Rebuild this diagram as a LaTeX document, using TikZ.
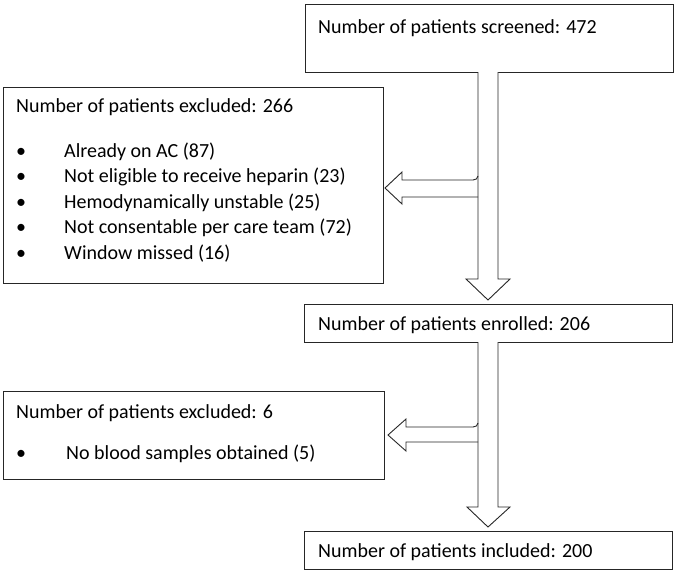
\documentclass[tikz,border=0pt]{standalone}
\usepackage{fontspec}
\setmainfont{Carlito}
\begin{document}
\begin{tikzpicture}[x={(1pt,0)},y={(0,-1pt)},
  box/.style={draw=black!85,line width=0.9pt,fill=white,inner sep=0pt,anchor=north west},
  txt/.style={inner sep=0pt,anchor=base west,font=\fontsize{20pt}{24pt}\selectfont},
  bul/.style={inner sep=0pt,anchor=base,font=\fontsize{20pt}{24pt}\selectfont},
  blk/.style={draw=black!85,line width=0.9pt,fill=white,line join=miter}]
\useasboundingbox (0,0) rectangle (676,574);
% boxes
\node[box,minimum width=368pt,minimum height=68pt] (scr) at (305,4) {};
\node[box,minimum width=380pt,minimum height=196pt] (ex1) at (3,87) {};
\node[box,minimum width=368pt,minimum height=38pt] (enr) at (304,304) {};
\node[box,minimum width=381pt,minimum height=88pt] (ex2) at (3,391) {};
\node[box,minimum width=368pt,minimum height=38pt] (inc) at (304,531) {};
% texts
\node[txt] (scrt) at (318,33.5) {Number of patients screened: 472};
\node[txt] (ex1t) at (16,112) {Number of patients excluded: 266};
\node[bul] (b1) at (21,157) {\textbullet}; \node[txt] (i1) at (64,157) {Already on AC (87)};
\node[bul] (b2) at (21,182.5) {\textbullet}; \node[txt] (i2) at (64,182.5) {Not eligible to receive heparin (23)};
\node[bul] (b3) at (21,208) {\textbullet}; \node[txt] (i3) at (64,208) {Hemodynamically unstable (25)};
\node[bul] (b4) at (21,233.5) {\textbullet}; \node[txt] (i4) at (64,233.5) {Not consentable per care team (72)};
\node[bul] (b5) at (21,259) {\textbullet}; \node[txt] (i5) at (64,259) {Window missed (16)};
\node[txt] (enrt) at (318,330) {Number of patients enrolled: 206};
\node[txt] (ex2t) at (16,418) {Number of patients excluded: 6};
\node[bul] (b6) at (21,459) {\textbullet}; \node[txt] (i6) at (66,459) {No blood samples obtained (5)};
\node[txt] (inct) at (318,557) {Number of patients included: 200};
% block arrow 1 (screened -> enrolled)
\draw[blk] (478,72) -- (478,279) -- (466,279) -- (488,300) -- (510,279) -- (498,279) -- (498,72);
% side arrow 1 (-> excluded 266)
\draw[blk,fill=none] (478,176) to[out=-90,in=0] (473,180) -- (402,180) -- (402,172) -- (385,188) -- (402,204) -- (402,197) -- (478,197);
% block arrow 2 (enrolled -> included)
\draw[blk] (478,342) -- (478,507) -- (467,507) -- (488,527) -- (510,507) -- (498,507) -- (498,342);
% side arrow 2 (-> excluded 6)
\draw[blk,fill=none] (478,423) to[out=-90,in=0] (473,427) -- (406,427) -- (406,419) -- (388,435) -- (406,451) -- (406,442) -- (478,442);
\end{tikzpicture}
\end{document}
